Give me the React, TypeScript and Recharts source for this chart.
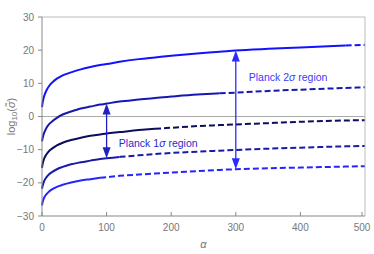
import {
  LineChart,
  Line,
  XAxis,
  YAxis,
  ReferenceLine,
  ReferenceDot,
} from "recharts";

// alpha samples shared by every curve
const ALPHA = [0, 1, 2, 4, 7, 11, 16, 23, 32, 45, 60, 75, 90, 100, 120, 150, 175, 200, 240, 275, 300, 350, 400, 470, 500];

const CURVE_1 = [2.8, 4.2, 5.2, 6.5, 7.9, 9.2, 10.3, 11.4, 12.4, 13.3, 14.2, 14.9, 15.5, 15.8, 16.5, 17.3, 17.8, 18.3, 19.0, 19.5, 19.9, 20.4, 20.8, 21.4, 21.6];
const CURVE_2 = [-7.5, -6.5, -5.7, -4.6, -3.4, -2.3, -1.4, -0.4, 0.6, 1.5, 2.4, 3.0, 3.6, 3.9, 4.5, 5.1, 5.6, 6.0, 6.6, 7.0, 7.2, 7.7, 8.1, 8.6, 8.8];
const CURVE_3 = [-15.5, -14.3, -13.5, -12.4, -11.4, -10.4, -9.6, -8.7, -7.9, -7.1, -6.4, -5.8, -5.4, -5.1, -4.7, -4.1, -3.7, -3.4, -2.9, -2.6, -2.4, -2.0, -1.6, -1.2, -1.1];
const CURVE_4 = [-21.8, -20.9, -20.2, -19.2, -18.3, -17.4, -16.7, -15.9, -15.2, -14.4, -13.8, -13.3, -12.8, -12.6, -12.2, -11.7, -11.3, -11.0, -10.6, -10.3, -10.1, -9.7, -9.4, -9.0, -8.9];
const CURVE_5 = [-26.8, -25.8, -25.1, -24.2, -23.4, -22.6, -21.9, -21.2, -20.6, -19.9, -19.3, -18.9, -18.5, -18.3, -17.9, -17.5, -17.2, -16.9, -16.5, -16.1, -15.9, -15.6, -15.4, -15.1, -15.0];

// alpha where each curve turns dashed
const DASH_FROM = [470, 275, 175, 120, 90];

const X_TICKS = [0, 100, 200, 300, 400, 500];
const Y_TICKS = [-30, -20, -10, 0, 10, 20, 30];

const CURVES = [CURVE_1, CURVE_2, CURVE_3, CURVE_4, CURVE_5];
const COLORS = ["#1212ff", "#1818b0", "#0d0d60", "#1a1aa8", "#2424ff"];

const FONT = "'Liberation Sans', Arial, sans-serif";
const W = 374;
const H = 254;
const BOTTOM_GAP = 8;

const at = (curve: number[], a: number) => curve[ALPHA.indexOf(a)];

const series = CURVES.map((curve, i) => {
  const pts = ALPHA.map((a, j) => ({ a, v: curve[j] }));
  return {
    solid: pts.filter((p) => p.a <= DASH_FROM[i]),
    dashed: pts.filter((p) => p.a >= DASH_FROM[i]),
    color: COLORS[i],
  };
});

const fmt = (v: number) => (v < 0 ? "\u2212" + Math.abs(v) : String(v));

function arrowShape(color: string) {
  return (p: any) => {
    const top = Math.min(p.y1, p.y2);
    const bot = Math.max(p.y1, p.y2);
    const x = p.x1;
    const hl = 11;
    const hw = 4;
    return (
      <g>
        <line x1={x} x2={x} y1={top + hl - 1} y2={bot - hl + 1} stroke={color} strokeWidth={1.3} />
        <polygon points={`${x},${top} ${x - hw},${top + hl} ${x + hw},${top + hl}`} fill={color} />
        <polygon points={`${x},${bot} ${x - hw},${bot - hl} ${x + hw},${bot - hl}`} fill={color} />
      </g>
    );
  };
}

function regionLabel(n: string, color: string) {
  return (p: any) => (
    <text
      x={p.viewBox.x}
      y={p.viewBox.y}
      dominantBaseline="central"
      fill={color}
      fontSize={10.5}
      fontFamily={FONT}
    >
      Planck {n}
      <tspan fontStyle="italic">σ</tspan> region
    </text>
  );
}

const BottomTick = (p: any) => (
  <g>
    <line x1={p.x} x2={p.x} y1={p.y - BOTTOM_GAP} y2={p.y - BOTTOM_GAP - 4} stroke="#888" />
    <text x={p.x} y={p.y} dy="0.71em" textAnchor="middle" fill="#777" fontSize={10} fontFamily={FONT}>
      {p.payload.value}
    </text>
  </g>
);

const TopTick = (p: any) => (
  <line x1={p.x} x2={p.x} y1={p.y} y2={p.y + 4} stroke="#aaa" />
);

const RightTick = (p: any) => (
  <line x1={p.x} x2={p.x - 4} y1={p.y} y2={p.y} stroke="#aaa" />
);

export default function App() {
  return (
    <div style={{ position: "absolute", left: 0, top: 0, background: "#fff" }}>
      <LineChart width={W} height={H} margin={{ top: 16, right: 8, bottom: 0, left: 8 }}>
        <XAxis
          type="number"
          dataKey="a"
          domain={[0, 500]}
          ticks={X_TICKS}
          stroke="#888"
          tickLine={false}
          tickSize={0}
          tickMargin={BOTTOM_GAP}
          tick={BottomTick}
          height={38}
          label={{
            content: (p: any) => (
              <text
                x={p.viewBox.x + p.viewBox.width / 2}
                y={p.viewBox.y + p.viewBox.height - 6}
                textAnchor="middle"
                fill="#777"
                fontSize={11}
                fontStyle="italic"
                fontFamily={FONT}
              >
                α
              </text>
            ),
          }}
        />
        <XAxis
          xAxisId="top"
          orientation="top"
          type="number"
          dataKey="a"
          domain={[0, 500]}
          ticks={X_TICKS}
          stroke="#bbb"
          tickLine={false}
          tickSize={0}
          tickMargin={0}
          tick={TopTick}
          height={1}
        />
        <YAxis
          type="number"
          domain={[-30, 30]}
          ticks={Y_TICKS}
          stroke="#888"
          tickSize={4}
          tickMargin={4}
          tickFormatter={fmt}
          tick={{ fill: "#777", fontSize: 10, fontFamily: FONT }}
          width={34}
          label={{
            content: (p: any) => {
              const cx = 11;
              const cy = p.viewBox.y + p.viewBox.height / 2;
              return (
                <text
                  x={cx}
                  y={cy}
                  transform={`rotate(-90, ${cx}, ${cy})`}
                  textAnchor="middle"
                  dominantBaseline="central"
                  fill="#777"
                  fontSize={11}
                  fontFamily={FONT}
                >
                  log
                  <tspan fontSize={8} dy={3}>10</tspan>
                  <tspan dy={-3}>(</tspan>
                  <tspan fontStyle="italic">σ̃</tspan>
                  <tspan>)</tspan>
                </text>
              );
            },
          }}
        />
        <YAxis
          yAxisId="right"
          orientation="right"
          type="number"
          domain={[-30, 30]}
          ticks={Y_TICKS}
          stroke="#bbb"
          tickLine={false}
          tickSize={0}
          tickMargin={0}
          tick={RightTick}
          width={1}
        />
        <ReferenceLine y={0} stroke="#aaa" strokeWidth={1} />

        {series.map((s, i) => (
          <Line
            key={`solid-${i}`}
            data={s.solid}
            dataKey="v"
            type="monotone"
            stroke={s.color}
            strokeWidth={2}
            dot={false}
            activeDot={false}
            isAnimationActive={false}
          />
        ))}
        {series.map((s, i) => (
          <Line
            key={`dash-${i}`}
            data={s.dashed}
            dataKey="v"
            type="monotone"
            stroke={s.color}
            strokeWidth={2}
            strokeDasharray="6 3"
            dot={false}
            activeDot={false}
            isAnimationActive={false}
          />
        ))}

        <ReferenceLine
          segment={[
            { x: 100, y: at(CURVE_2, 100) },
            { x: 100, y: at(CURVE_4, 100) },
          ]}
          shape={arrowShape("#2020c0")}
        />
        <ReferenceLine
          segment={[
            { x: 300, y: at(CURVE_1, 300) },
            { x: 300, y: at(CURVE_5, 300) },
          ]}
          shape={arrowShape("#2a2aff")}
        />
        <ReferenceDot x={119} y={-8.1} r={0} stroke="none" fill="none" label={{ content: regionLabel("1", "#2a2ac8") }} />
        <ReferenceDot x={320} y={11.8} r={0} stroke="none" fill="none" label={{ content: regionLabel("2", "#3a3aff") }} />
      </LineChart>
    </div>
  );
}
